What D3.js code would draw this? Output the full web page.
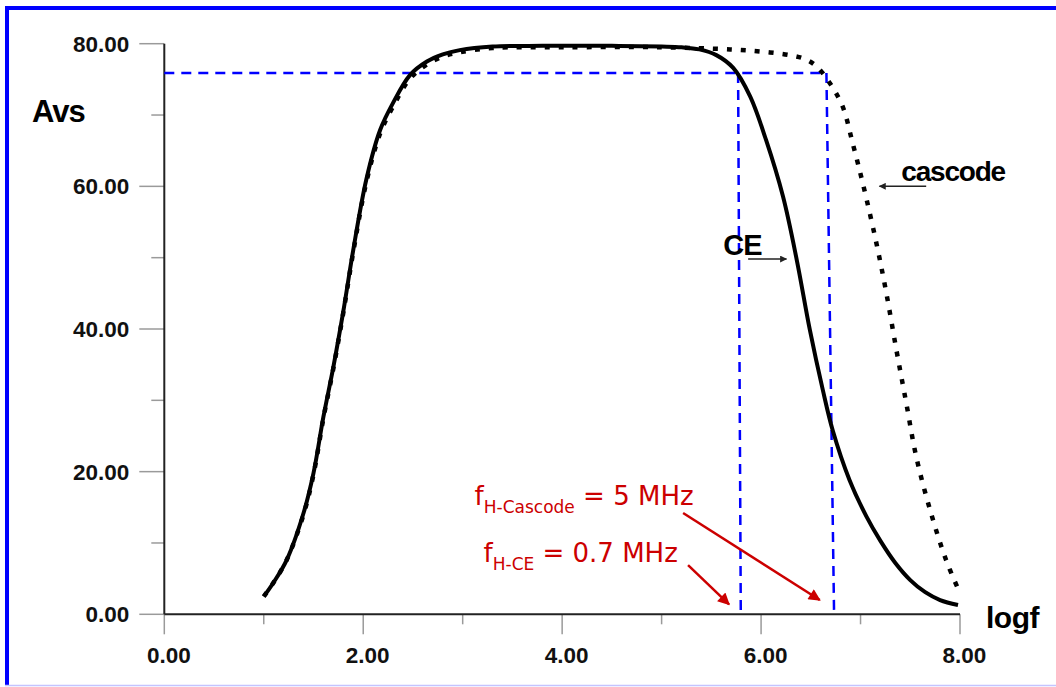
<!DOCTYPE html>
<html><head><meta charset="utf-8">
<script src="https://cdn.jsdelivr.net/npm/d3@7"></script>
<style>
html,body{margin:0;padding:0;background:#fff;}
svg{display:block;}
</style></head>
<body>
<svg id="chart" width="1056" height="687"></svg>
<script>
// ---------- data ----------
const xTicksMajor = [0, 2, 4, 6, 8];
const xTicksMinor = [1, 3, 5, 7];
const yTicksMajor = [0, 20, 40, 60, 80];
const yTicksMinor = [10, 30, 50, 70];

const ceX = [1.0, 1.1, 1.23, 1.4, 1.5, 1.6, 1.7, 1.8, 1.9, 2.03, 2.17, 2.3, 2.47, 2.64, 2.8, 2.97, 3.3, 3.8, 4.5, 5.0, 5.2, 5.38, 5.55, 5.72, 5.89, 6.05, 6.22, 6.36, 6.49, 6.62, 6.72, 6.89, 7.06, 7.2, 7.35, 7.5, 7.65, 7.8, 7.98];
const ceY = [2.5, 4.5, 7.6, 14.2, 19.8, 27.7, 34.7, 42.5, 51.1, 60.9, 67.9, 71.7, 75.6, 77.5, 78.5, 79.1, 79.6, 79.7, 79.7, 79.6, 79.5, 79.2, 78.4, 76.6, 72.6, 66.5, 58.6, 49.6, 39.9, 31.5, 25.8, 18.8, 13.7, 10.3, 7.2, 4.8, 3.1, 2.0, 1.3];

const cascX = [1.0, 1.1, 1.23, 1.4, 1.5, 1.6, 1.7, 1.8, 1.9, 2.03, 2.17, 2.3, 2.47, 2.64, 2.8, 2.97, 3.3, 4.0, 5.0, 5.69, 6.0, 6.29, 6.45, 6.56, 6.69, 6.82, 6.92, 7.03, 7.16, 7.26, 7.36, 7.46, 7.56, 7.70, 7.86, 7.98];
const cascY = [2.5, 4.5, 7.6, 14.0, 19.6, 27.5, 34.5, 42.3, 50.8, 60.5, 67.4, 71.2, 75.1, 77.1, 78.2, 78.8, 79.4, 79.5, 79.5, 79.2, 78.9, 78.4, 77.8, 76.8, 74.5, 71.2, 66.1, 60.0, 52.0, 45.0, 37.1, 29.6, 22.1, 14.6, 7.6, 3.6];

const cutoffLevel = 75.9;                 // Avs at the -3 dB point
const ceCutoffX = [5.769, 5.796];         // f_H CE (top, bottom)
const cascCutoffX = [6.657, 6.734];       // f_H cascode (top, bottom)

const labelCE = "CE", labelCasc = "cascode";
const annot1 = {f: "f", sub: "H-Cascode", rest: " = 5 MHz", x: 3.12, y: 15.3, ax1: 5.216, ay1: 14.2, ax2: 6.59, ay2: 2.0};
const annot2 = {f: "f", sub: "H-CE", rest: " = 0.7 MHz", x: 3.21, y: 7.4, ax1: 5.266, ay1: 6.9, ax2: 5.678, ay2: 1.4};

// ---------- layout ----------
const svg = d3.select("#chart");
const W = 1056, H = 687;
const mLeft = 164.3, mRight = 960, mTop = 43.7, mBottom = 614.3;
const x = d3.scaleLinear().domain([0, 8]).range([mLeft, mRight]);
const y = d3.scaleLinear().domain([0, 80]).range([mBottom, mTop]);

// border
svg.append("rect").attr("x", 5).attr("y", 6).attr("width", W - 5).attr("height", 4).attr("fill", "#0000ff");
svg.append("rect").attr("x", 5).attr("y", 6).attr("width", 4).attr("height", 680).attr("fill", "#0000ff");
svg.append("line").attr("x1", 5).attr("x2", W).attr("y1", 685.5).attr("y2", 685.5).attr("stroke", "#c4c4ff").attr("stroke-width", 1.5);

const defs = svg.append("defs");
function marker(id, color, w, h) {
  defs.append("marker").attr("id", id).attr("viewBox", "0 0 10 10").attr("refX", 9).attr("refY", 5)
    .attr("markerWidth", w).attr("markerHeight", h).attr("markerUnits", "userSpaceOnUse").attr("orient", "auto")
    .append("path").attr("d", "M0,0 L10,5 L0,10 Z").attr("fill", color);
}
marker("arrRed", "#cc0000", 14, 12);
marker("arrBlk", "#222", 9, 7);

// ticks
const tickCol = "#9a9a9a";
const tickFont = "Liberation Sans, Arial, sans-serif";
const gy = svg.append("g");
gy.selectAll(".ymaj").data(yTicksMajor).join("line")
  .attr("x1", mLeft - 25).attr("x2", mLeft).attr("y1", d => y(d)).attr("y2", d => y(d))
  .attr("stroke", tickCol).attr("stroke-width", 1.5);
gy.selectAll(".ymin").data(yTicksMinor).join("line")
  .attr("x1", mLeft - 13).attr("x2", mLeft).attr("y1", d => y(d)).attr("y2", d => y(d))
  .attr("stroke", tickCol).attr("stroke-width", 1.5);
gy.selectAll("text").data(yTicksMajor).join("text")
  .attr("x", mLeft - 35).attr("y", d => y(d)).attr("dy", "0.36em").attr("text-anchor", "end")
  .attr("font-family", tickFont).attr("font-weight", "bold").attr("font-size", 22.5)
  .attr("fill", "#111").text(d => d3.format(".2f")(d));

const gx = svg.append("g");
gx.selectAll(".xmaj").data(xTicksMajor).join("line")
  .attr("x1", d => x(d)).attr("x2", d => x(d)).attr("y1", mBottom).attr("y2", mBottom + 20)
  .attr("stroke", tickCol).attr("stroke-width", 1.5);
gx.selectAll(".xmin").data(xTicksMinor).join("line")
  .attr("x1", d => x(d)).attr("x2", d => x(d)).attr("y1", mBottom).attr("y2", mBottom + 10)
  .attr("stroke", tickCol).attr("stroke-width", 1.5);
gx.selectAll("text").data(xTicksMajor).join("text")
  .attr("x", d => x(d) + 4.5).attr("y", mBottom + 49).attr("text-anchor", "middle")
  .attr("font-family", tickFont).attr("font-weight", "bold").attr("font-size", 22.5)
  .attr("fill", "#111").text(d => d3.format(".2f")(d));

// axis lines
svg.append("line").attr("x1", mLeft).attr("x2", mLeft).attr("y1", mTop).attr("y2", mBottom).attr("stroke", "#222").attr("stroke-width", 2);
svg.append("line").attr("x1", mLeft).attr("x2", mRight).attr("y1", mBottom).attr("y2", mBottom).attr("stroke", "#222").attr("stroke-width", 2);

// axis titles
svg.append("text").attr("x", 32).attr("y", 122).attr("font-family", tickFont)
  .attr("font-weight", "bold").attr("font-size", 31).attr("letter-spacing", -1).attr("fill", "#000").text("Avs");
svg.append("text").attr("x", 986).attr("y", 628).attr("font-family", tickFont)
  .attr("font-weight", "bold").attr("font-size", 30).attr("letter-spacing", -0.5).attr("fill", "#000").text("logf");

// blue cut-off guides
const blue = svg.append("g").attr("stroke", "#0000ff").attr("stroke-width", 2.5).attr("stroke-dasharray", "10,7").attr("fill", "none");
blue.append("line").attr("x1", x(0)).attr("x2", x(cascCutoffX[0])).attr("y1", y(cutoffLevel)).attr("y2", y(cutoffLevel));
blue.append("line").attr("x1", x(ceCutoffX[0])).attr("x2", x(ceCutoffX[1])).attr("y1", y(cutoffLevel)).attr("y2", y(0));
blue.append("line").attr("x1", x(cascCutoffX[0])).attr("x2", x(cascCutoffX[1])).attr("y1", y(cutoffLevel)).attr("y2", y(0));

// curves
const line = d3.line().x(d => x(d[0])).y(d => y(d[1])).curve(d3.curveCatmullRom.alpha(0.5));
svg.append("path").datum(d3.zip(cascX, cascY)).attr("d", line).attr("fill", "none")
  .attr("stroke", "#000").attr("stroke-width", 4.5).attr("stroke-dasharray", "5,9");
svg.append("path").datum(d3.zip(ceX, ceY)).attr("d", line).attr("fill", "none")
  .attr("stroke", "#000").attr("stroke-width", 4);

// curve labels
svg.append("text").attr("x", x(5.62)).attr("y", y(50.4)).attr("font-family", tickFont).attr("font-weight", "bold")
  .attr("font-size", 29).attr("letter-spacing", -1).attr("fill", "#000").text(labelCE);
svg.append("line").attr("x1", x(5.87)).attr("x2", x(6.255)).attr("y1", y(49.8)).attr("y2", y(49.8))
  .attr("stroke", "#222").attr("stroke-width", 1.5).attr("marker-end", "url(#arrBlk)");
svg.append("text").attr("x", x(7.41)).attr("y", y(60.7)).attr("font-family", tickFont).attr("font-weight", "bold")
  .attr("font-size", 28).attr("letter-spacing", -1.2).attr("fill", "#000").text(labelCasc);
svg.append("line").attr("x1", x(7.66)).attr("x2", x(7.19)).attr("y1", y(60.0)).attr("y2", y(60.0))
  .attr("stroke", "#222").attr("stroke-width", 1.5).attr("marker-end", "url(#arrBlk)");

// red annotations
[annot1, annot2].forEach(a => {
  const t = svg.append("text").attr("x", x(a.x)).attr("y", y(a.y)).attr("font-family", "DejaVu Sans, Verdana, sans-serif")
    .attr("fill", "#cc0000").attr("font-size", 26);
  t.append("tspan").text(a.f);
  t.append("tspan").attr("font-size", 17).attr("dy", 8).text(a.sub);
  t.append("tspan").attr("dy", -8).text(a.rest);
  svg.append("line").attr("x1", x(a.ax1)).attr("y1", y(a.ay1)).attr("x2", x(a.ax2)).attr("y2", y(a.ay2))
    .attr("stroke", "#cc0000").attr("stroke-width", 2.5).attr("marker-end", "url(#arrRed)");
});
</script>
</body></html>
